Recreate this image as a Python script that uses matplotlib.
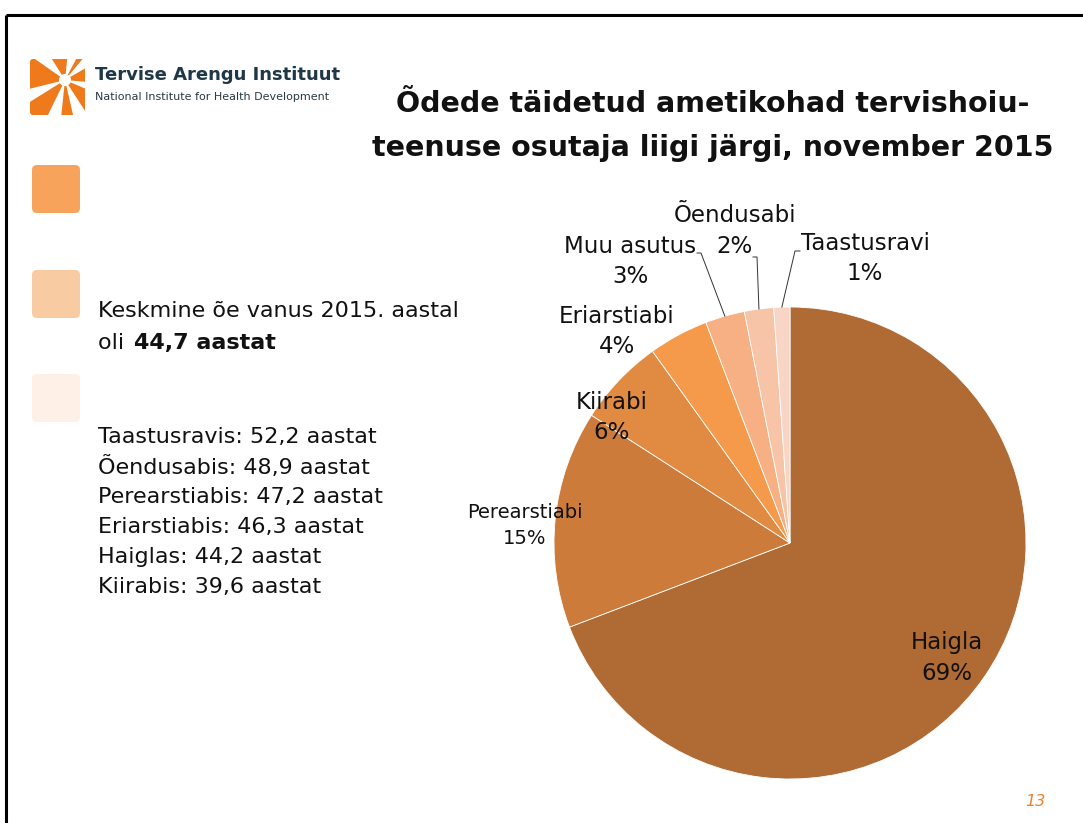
import matplotlib
matplotlib.use("Agg")
import matplotlib.pyplot as plt
from matplotlib.patches import FancyBboxPatch, Wedge
import numpy as np

# slide data
categories = ["Haigla", "Perearstiabi", "Kiirabi", "Eriarstiabi",
              "Muu asutus", "Õendusabi", "Taastusravi"]
shares = [69.2, 14.9, 6.0, 4.1, 2.7, 2.0, 1.1]
colors = ["#B06A34", "#CC7B3B", "#E08A42", "#F5994B",
          "#F7B084", "#F8C4A8", "#F9D5C6"]

title_lines = ["Õdede täidetud ametikohad tervishoiu-",
               "teenuse osutaja liigi järgi, november 2015"]
age_groups = ["Taastusravis", "Õendusabis", "Perearstiabis",
              "Eriarstiabis", "Haiglas", "Kiirabis"]
age_values = ["52,2", "48,9", "47,2", "46,3", "44,2", "39,6"]
mean_age = "44,7"
page_no = "13"

W, H = 1083, 823
fig = plt.figure(figsize=(W / 100, H / 100), dpi=100)
ax = fig.add_axes([0, 0, 1, 1])


def Y(py):
    # pixel row (from top) -> data y
    return H - py


cx, cy, R = 790, Y(543), 236
wedges, _ = ax.pie(shares, colors=colors, startangle=90, counterclock=False,
                   center=(cx, cy), radius=R,
                   wedgeprops=dict(edgecolor="white", linewidth=0.6))
ax.set_xlim(0, W)
ax.set_ylim(0, H)
ax.set_aspect("equal")
ax.axis("off")

# slice labels: (x, y of first line, fontsize, line gap, leader line start/knee)
label_pos = {
    "Haigla": (947, 643, 16.5, 30, None),
    "Perearstiabi": (525, 512, 14, 26, None),
    "Kiirabi": (612, 402, 16.5, 30, None),
    "Eriarstiabi": (617, 316, 16.5, 30, None),
    "Muu asutus": (630, 246, 16.5, 30, (697, 701, 253)),
    "Õendusabi": (735, 215, 16.5, 31, (753, 757, 257)),
    "Taastusravi": (865, 243, 16.5, 30, (800, 795, 251)),
}
for w, name, v in zip(wedges, categories, shares):
    x, y, fs, gap, lead = label_pos[name]
    ax.text(x, Y(y), name, ha="center", va="center", fontsize=fs, color="#111111")
    ax.text(x, Y(y + gap), "%d%%" % round(v),
            ha="center", va="center", fontsize=fs, color="#111111")
    if lead is not None:
        mid = np.deg2rad((w.theta1 + w.theta2) / 2)
        ex, ey = cx + R * np.cos(mid), cy + R * np.sin(mid)
        ax.plot([lead[0], lead[1], ex], [Y(lead[2]), Y(lead[2]), ey],
                color="#333333", lw=0.7)

# title
ax.text(713, Y(104), title_lines[0], ha="center", va="center",
        fontsize=20.5, fontweight="bold", color="#111111")
ax.text(713, Y(148), title_lines[1], ha="center", va="center",
        fontsize=20.5, fontweight="bold", color="#111111")

# decorative squares on the left
for top, c in zip([163, 268, 372], ["#F7A35C", "#F8CBA3", "#FEF0E6"]):
    ax.add_patch(FancyBboxPatch((32, Y(top + 50)), 48, 48,
                                boxstyle="round,pad=0,rounding_size=5",
                                fc=c, ec="none"))

# mean age text
fs_left = 16
ax.text(98, Y(311), "Keskmine õe vanus 2015. aastal", ha="left", va="center",
        fontsize=fs_left, color="#111111")
ax.text(98, Y(343), "oli ", ha="left", va="center", fontsize=fs_left, color="#111111")
ax.text(134, Y(343), mean_age + " aastat", ha="left", va="center",
        fontsize=fs_left, fontweight="bold", color="#111111")

for i, (g, a) in enumerate(zip(age_groups, age_values)):
    ax.text(98, Y(437 + i * 30), "%s: %s aastat" % (g, a), ha="left",
            va="center", fontsize=fs_left, color="#111111")

# logo: orange square cut by white rays
box = FancyBboxPatch((30, Y(115)), 55, 56, boxstyle="round,pad=0,rounding_size=3",
                     fc="none", ec="none")
ax.add_patch(box)
for a1, a2 in [(145, 194), (84, 122), (50, 62), (-5, 30),
               (-57, -23), (-96, -77), (-148, -116)]:
    wd = Wedge((65, Y(80)), 60, a1, a2, width=54, fc="#EE7A1C", ec="none")
    ax.add_patch(wd)
    wd.set_clip_path(box)
ax.text(95, Y(75), "Tervise Arengu Instituut", ha="left", va="center",
        fontsize=13, fontweight="bold", color="#1E3848")
ax.text(95, Y(97), "National Institute for Health Development", ha="left",
        va="center", fontsize=8, color="#2A3A44")

# slide frame
ax.plot([6, W], [Y(15), Y(15)], color="black", lw=2.2, solid_capstyle="butt")
ax.plot([6, 6], [Y(15), 0], color="black", lw=2.2, solid_capstyle="butt")

ax.text(1035, Y(802), page_no, ha="center", va="center", fontsize=11.5,
        style="italic", color="#E8842C")

fig.savefig("out.png", dpi=100)
